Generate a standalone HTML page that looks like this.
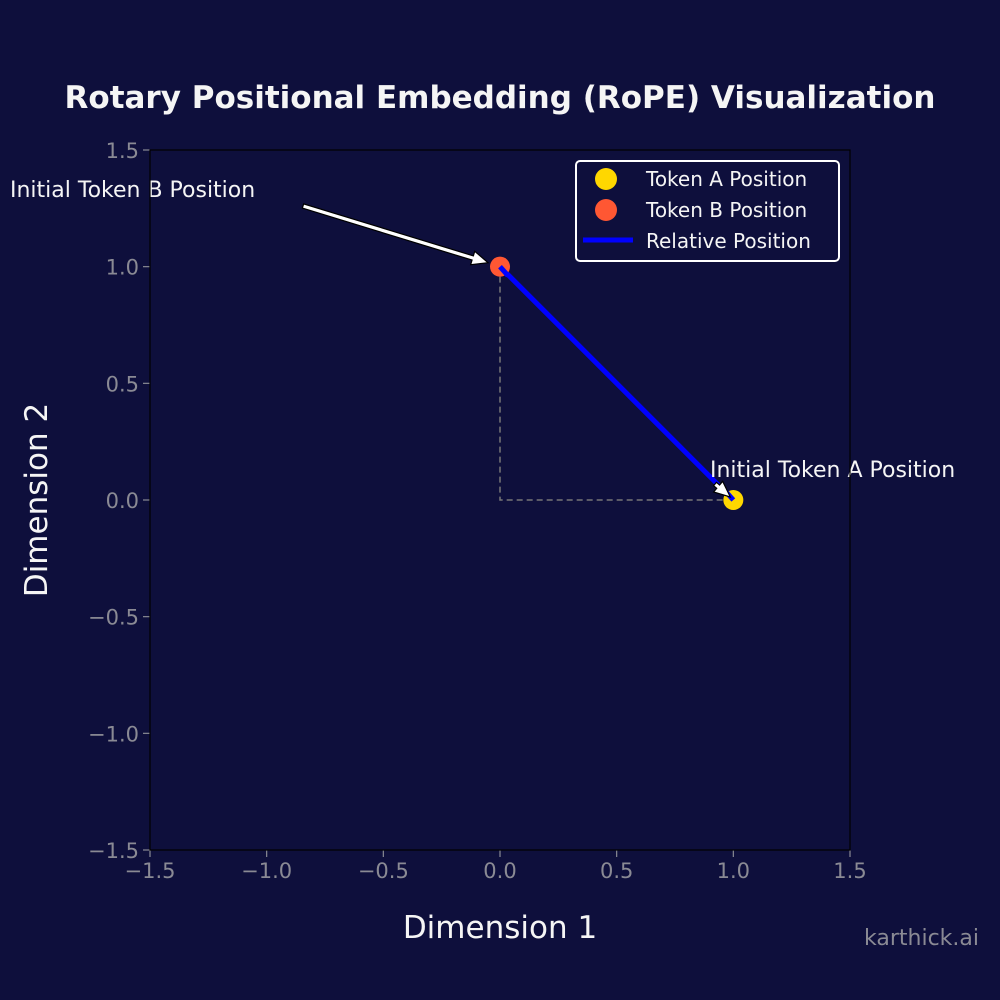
<!DOCTYPE html>
<html><head><meta charset="utf-8"><style>
html,body{margin:0;padding:0;background:#0e0f3c;}
svg{display:block;font-family:"DejaVu Sans","Liberation Sans",sans-serif;}
</style></head><body>
<svg id="chart" width="1000" height="1000" viewBox="0 0 1000 1000">
<rect width="1000" height="1000" fill="#0e0f3c"/>
<text x="500" y="108" text-anchor="middle" fill="#f5f5f5" font-size="31" font-weight="bold">Rotary Positional Embedding (RoPE) Visualization</text>
<g id="ticks"></g>
<g id="marks"></g>
<rect x="150" y="150" width="700" height="700" fill="none" stroke="#000" stroke-width="1.2"/>
<text x="500" y="938" text-anchor="middle" fill="#f5f5f5" font-size="31">Dimension 1</text>
<text transform="translate(47,500) rotate(-90)" text-anchor="middle" fill="#f5f5f5" font-size="31">Dimension 2</text>
<text x="979" y="945" text-anchor="end" fill="#8a8a94" font-size="22">karthick.ai</text>
<g>
<rect x="576" y="161" width="263" height="100" rx="4" fill="#0e0f3c" stroke="#fff" stroke-width="2"/>
<circle cx="606" cy="179" r="11" fill="#ffd700"/>
<text x="646" y="186" fill="#f5f5f5" font-size="20">Token A Position</text>
<circle cx="606" cy="210" r="11" fill="#ff5733"/>
<text x="646" y="217" fill="#f5f5f5" font-size="20">Token B Position</text>
<line x1="583" y1="240" x2="633" y2="240" stroke="#0000ff" stroke-width="5"/>
<text x="646" y="248" fill="#f5f5f5" font-size="20">Relative Position</text>
</g>
</svg>
<script>
const tickValues = [-1.5, -1.0, -0.5, 0.0, 0.5, 1.0, 1.5];
const tickLabels = ["\u22121.5","\u22121.0","\u22120.5","0.0","0.5","1.0","1.5"];
const tokenA = [1.0, 0.0];
const tokenB = [0.0, 1.0];
const NS = "http://www.w3.org/2000/svg";
const sx = v => 150 + (v + 1.5) / 3 * 700;
const sy = v => 850 - (v + 1.5) / 3 * 700;
function mk(tag, attrs, parent){const e=document.createElementNS(NS,tag);for(const k in attrs)e.setAttribute(k,attrs[k]);parent.appendChild(e);return e;}
const tg = document.getElementById("ticks");
tickValues.forEach((v,i)=>{
  let t = mk("line",{x1:sx(v),x2:sx(v),y1:850,y2:857,stroke:"#8a8a94","stroke-width":1.2},tg);
  
  
  let l = mk("text",{x:sx(v),y:878,"text-anchor":"middle",fill:"#8a8a94","font-size":21},tg);
  l.textContent = tickLabels[i];
  
  
  let t2 = mk("line",{x1:143,x2:150,y1:sy(v),y2:sy(v),stroke:"#8a8a94","stroke-width":1.2},tg);
  
  
  let l2 = mk("text",{x:139,y:sy(v)+8,"text-anchor":"end",fill:"#8a8a94","font-size":21},tg);
  l2.textContent = tickLabels[i];
  
  
});
const mg = document.getElementById("marks");
const ax = sx(tokenA[0]), ay = sy(tokenA[1]), bx = sx(tokenB[0]), by = sy(tokenB[1]);
let g1 = mk("path",{d:`M${bx},${by} L${bx},${ay} L${ax},${ay}`,fill:"none",stroke:"#777",  "stroke-width":1.5,"stroke-dasharray":"6,4"},mg);


let ln = mk("line",{x1:bx,y1:by,x2:ax,y2:ay,stroke:"#0000ff","stroke-width":5},mg);


let ca = mk("circle",{cx:ax,cy:ay,r:10,fill:"#ffd700"},mg);


let cb = mk("circle",{cx:bx,cy:by,r:10,fill:"#ff5733"},mg);


mk("line",{x1:bx,y1:by,x2:bx+8,y2:by+9,stroke:"#0000ff","stroke-width":5},mg);
mk("line",{x1:ax-8,y1:ay-9,x2:ax,y2:ay,stroke:"#0000ff","stroke-width":5},mg);
function arrow(x1,y1,x2,y2,name){
  const g = mk("g",{},mg);
  
  
  const dx=x2-x1, dy=y2-y1, L=Math.hypot(dx,dy), ux=dx/L, uy=dy/L, px=-uy, py=ux;
  const hb = 16, hw = 7;
  const bxp = x2-ux*hb, byp = y2-uy*hb;
  const w = 2.2;
  const pts = [[x1+px*w,y1+py*w],[bxp+px*w,byp+py*w],[bxp+px*hw,byp+py*hw],[x2,y2],[bxp-px*hw,byp-py*hw],[bxp-px*w,byp-py*w],[x1-px*w,y1-py*w]];
  mk("polygon",{points:pts.map(p=>p.join(",")).join(" "),fill:"#fff",stroke:"#000","stroke-width":1.2},g);
}
arrow(303,206,bx-12,by-4,"token-b-arrow");
arrow(715,484,ax-3,ay-3,"token-a-arrow");
let tb = mk("text",{x:10,y:197,fill:"#f5f5f5","font-size":22},mg);
tb.textContent = "Initial Token B Position";


let ta = mk("text",{x:710,y:477,fill:"#f5f5f5","font-size":22},mg);
ta.textContent = "Initial Token A Position";


</script>
</body></html>
